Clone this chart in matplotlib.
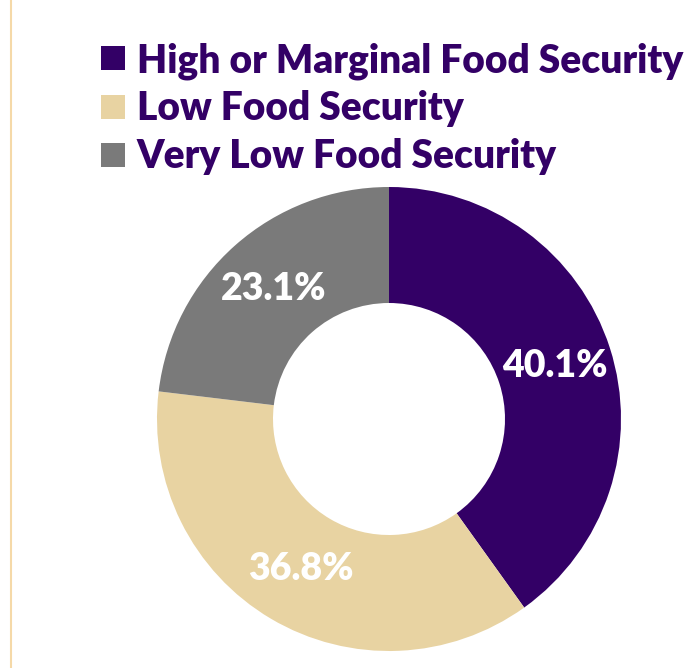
import matplotlib.pyplot as plt
from matplotlib.lines import Line2D

labels = ['High or Marginal Food Security', 'Low Food Security', 'Very Low Food Security']
shares = [40.1, 36.8, 23.1]
colors = ['#330066', '#E8D3A2', '#7A7A7A']

W, H = 692, 668
fig = plt.figure(figsize=(W / 100, H / 100), dpi=100)
fig.patch.set_facecolor('white')

# thin tan rule along the left edge
fig.add_artist(Line2D([10.5 / W, 10.5 / W], [0, 1], color='#F5D9A8', lw=1.5))

ax = fig.add_axes([157 / W, 17 / H, 464 / W, 464 / H])
wedges, _, autotexts = ax.pie(
    shares, colors=colors, startangle=90, counterclock=False,
    radius=1, wedgeprops=dict(width=0.5, linewidth=0),
    autopct=lambda p: f'{p:.1f}%', pctdistance=0.75,
    textprops=dict(color='white', fontsize=27, fontweight='heavy', family='Lato'))
ax.set_xlim(-1, 1)
ax.set_ylim(-1, 1)
ax.set_aspect('equal')
ax.axis('off')

fs = 28
handles = [Line2D([], [], ls='none', marker='s', markersize=17.3,
                  markerfacecolor=c, markeredgewidth=0) for c in colors]
leg = fig.legend(handles, labels, loc='upper left',
                 bbox_to_anchor=(101 / W, 1 - 42 / H),
                 frameon=False, borderpad=0, borderaxespad=0,
                 handlelength=17.3 / fs, handletextpad=8.6 / fs,
                 labelspacing=0.28,
                 prop=dict(family='Lato', weight='heavy', size=fs))
for t in leg.get_texts():
    t.set_color('#330066')

fig.savefig('out.png', dpi=100)
